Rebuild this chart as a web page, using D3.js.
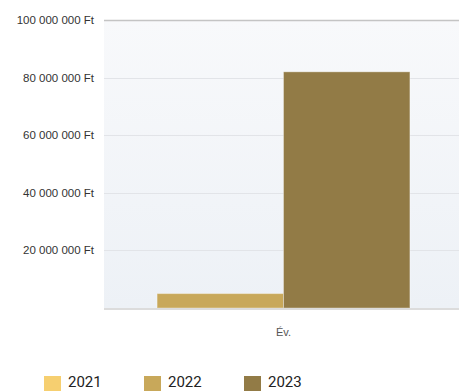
<!DOCTYPE html>
<html>
<head>
<meta charset="utf-8">
<script src="https://cdn.jsdelivr.net/npm/d3@7"></script>
<style>
  body { margin: 0; background: #fff; }
  svg { display: block; }
</style>
</head>
<body>
<svg id="chart" width="459" height="391"></svg>
<script>
// data
const categories = ["Év."];
const years = ["2021", "2022", "2023"];
const values = [null, 5000000, 82000000];
const yTicks = [20000000, 40000000, 60000000, 80000000, 100000000];
const colors = ["#f6cf70", "#c8a85a", "#927b46"];

const svg = d3.select("#chart");
const margin = { top: 20, right: 0, bottom: 83, left: 104 };
const width = 459;
const height = 391;
const plotW = width - margin.left - margin.right;
const plotH = height - margin.top - margin.bottom;

const fmt = v => d3.format(",")(v).replace(/,/g, " ") + " Ft";

const y = d3.scaleLinear().domain([0, 100000000]).range([margin.top + plotH, margin.top]);
// plot runs a little past the right edge of the window
const x = d3.scaleBand().domain(categories).range([margin.left, width + 4]).paddingInner(0).paddingOuter(0.21);

// only series that have a value take a slot
const shown = years.filter((yr, i) => values[i] != null);
const xi = d3.scaleBand().domain(shown).range([0, x.bandwidth()]).padding(0);

// plot background
const defs = svg.append("defs");
const grad = defs.append("linearGradient").attr("id", "bg").attr("x1", 0).attr("y1", 0).attr("x2", 0).attr("y2", 1);
grad.append("stop").attr("offset", "0%").attr("stop-color", "#f8f9fb");
grad.append("stop").attr("offset", "100%").attr("stop-color", "#edf1f6");

svg.append("rect")
    .attr("x", margin.left)
    .attr("y", margin.top)
    .attr("width", plotW)
    .attr("height", plotH)
    .attr("fill", "url(#bg)");

// grid lines
svg.append("g").selectAll("line")
    .data(yTicks)
    .join("line")
    .attr("x1", margin.left)
    .attr("x2", width)
    .attr("y1", d => Math.round(y(d)) + 0.5)
    .attr("y2", d => Math.round(y(d)) + 0.5)
    .attr("stroke", d => d === 100000000 ? "#c4c4c4" : "#e2e4e8")
    .attr("stroke-width", d => d === 100000000 ? 1.5 : 1);

// y labels
svg.append("g").selectAll("text")
    .data(yTicks)
    .join("text")
    .attr("x", 94)
    .attr("y", d => y(d))
    .attr("dy", "0.35em")
    .attr("text-anchor", "end")
    .attr("font-family", "Liberation Sans, Arial, sans-serif")
    .attr("font-size", "11.5px")
    .attr("fill", "#333")
    .text(fmt);

// bars
const bars = years.map((yr, i) => ({ year: yr, value: values[i], color: colors[i] }))
    .filter(d => d.value != null);

svg.append("g").selectAll("rect")
    .data(bars)
    .join("rect")
    .attr("x", d => x(categories[0]) + xi(d.year))
    .attr("y", d => y(d.value))
    .attr("width", xi.bandwidth())
    .attr("height", d => y(0) - y(d.value))
    .attr("fill", d => d.color)
    .attr("stroke", "rgba(255,255,255,0.35)")
    .attr("stroke-width", 1);

// bottom axis line
svg.append("line")
    .attr("x1", margin.left)
    .attr("x2", width)
    .attr("y1", y(0) + 1)
    .attr("y2", y(0) + 1)
    .attr("stroke", "#dcdcdc")
    .attr("stroke-width", 2);

// category label
svg.append("text")
    .attr("x", x(categories[0]) + x.bandwidth() / 2)
    .attr("y", 336)
    .attr("text-anchor", "middle")
    .attr("font-family", "Liberation Sans, Arial, sans-serif")
    .attr("font-size", "11px")
    .attr("fill", "#555")
    .text(categories[0]);

// legend
const legend = svg.append("g").selectAll("g")
    .data(years)
    .join("g")
    .attr("transform", (d, i) => `translate(${44 + i * 100},376)`);

legend.append("rect")
    .attr("width", 17)
    .attr("height", 15)
    .attr("fill", (d, i) => colors[i]);

legend.append("text")
    .attr("x", 24)
    .attr("y", 11)
    .attr("font-family", "Roboto, sans-serif")
    .attr("font-size", "15px")
    .attr("fill", "#222")
    .text(d => d);
</script>
</body>
</html>
